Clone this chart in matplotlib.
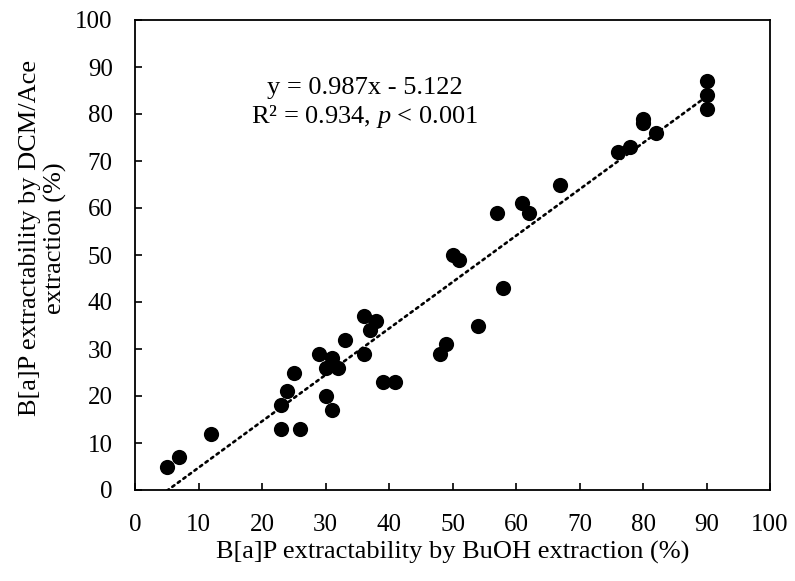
import matplotlib
matplotlib.use("Agg")
import matplotlib.pyplot as plt
import numpy as np

plt.rcParams['font.family'] = ['Liberation Serif', 'DejaVu Serif']
plt.rcParams['mathtext.fontset'] = 'custom'
plt.rcParams['mathtext.it'] = 'Liberation Serif:italic'
plt.rcParams['mathtext.rm'] = 'Liberation Serif'

buoh = [5, 7, 12, 23, 23, 24, 25, 26, 29, 30, 30, 31, 31, 32, 33,
        36, 36, 37, 38, 39, 41, 48, 49, 50, 51, 54, 57, 58, 61, 62,
        67, 76, 78, 80, 80, 82, 90, 90, 90]
dcm = [5, 7, 12, 18, 13, 21, 25, 13, 29, 26, 20, 28, 17, 26, 32,
       37, 29, 34, 36, 23, 23, 29, 31, 50, 49, 35, 59, 43, 61, 59,
       65, 72, 73, 79, 78, 76, 87, 84, 81]
slope = 0.987
intercept = -5.122
x_ticks = list(range(0, 101, 10))
y_ticks = list(range(0, 101, 10))

fig = plt.figure(figsize=(7.95, 5.81), dpi=100)
ax = fig.add_axes([135/795, 1-490/581, 635/795, 470/581])

ax.scatter(buoh, dcm, s=120, color='black', zorder=3, linewidths=0)
xl = np.array([min(buoh), max(buoh)])
ax.plot(xl, slope*xl + intercept, color='black', linewidth=1.9,
        linestyle=(0, (1, 1.6)), dash_capstyle='round', zorder=2)

ax.set_xlim(0, 100)
ax.set_ylim(0, 100)
ax.set_xticks(x_ticks)
ax.set_yticks(y_ticks)
ax.tick_params(direction='in', length=5, width=1.2, labelsize=18)
ax.tick_params(axis='y', pad=16)
ax.tick_params(axis='x', pad=17)
for s in ax.spines.values():
    s.set_linewidth(1.3)

ax.set_xlabel('B[a]P extractability by BuOH extraction (%)', fontsize=19, labelpad=4)
ax.set_ylabel('B[a]P extractability by DCM/Ace\nextraction (%)', fontsize=19,
              linespacing=1.15)
ax.yaxis.set_label_coords(-0.107, 0.536)

ax.text(0.362, 0.856, 'y = 0.987x - 5.122', transform=ax.transAxes,
        ha='center', va='center', fontsize=19)
ax.text(0.362, 0.794, 'R² = 0.934, $p$ < 0.001', transform=ax.transAxes,
        ha='center', va='center', fontsize=19)

fig.savefig('out.png', dpi=100)
